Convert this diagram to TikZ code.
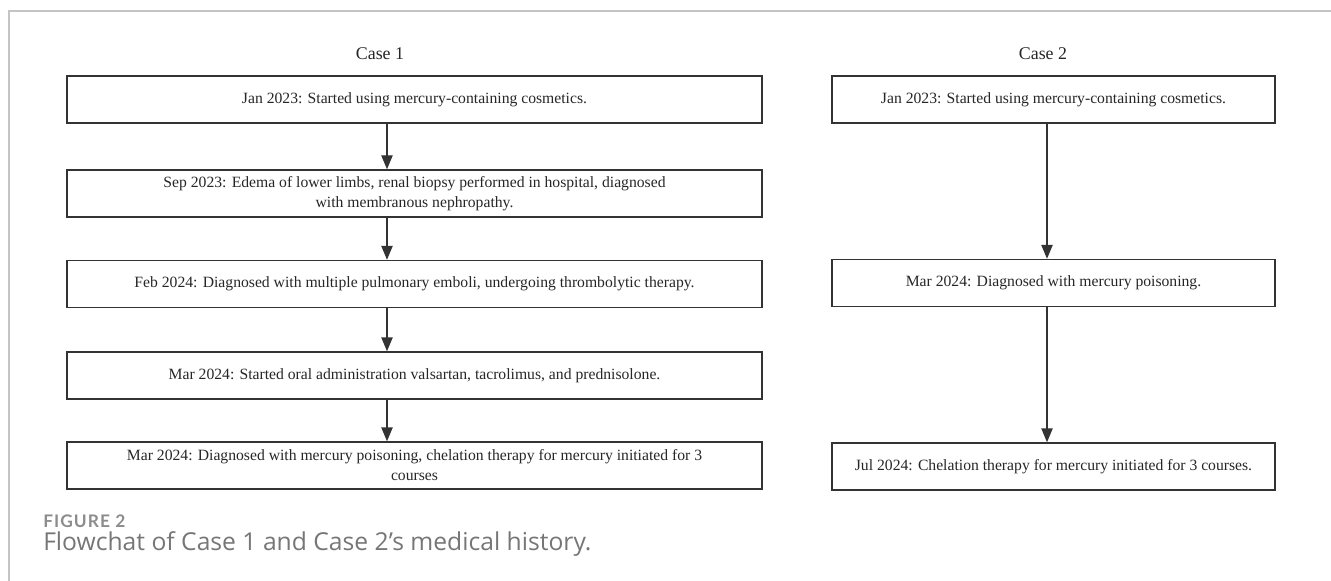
\documentclass[tikz,border=0pt]{standalone}
\usepackage{fontspec}
\setmainfont{Liberation Serif}
\newfontfamily\capfont{Open Sans}
\newfontfamily\tagfont[LetterSpace=6]{Lato}
\usetikzlibrary{arrows.meta}
\definecolor{inkC}{HTML}{262626}
\definecolor{lineC}{HTML}{333333}
\definecolor{frameC}{HTML}{C4C4C4}
\definecolor{capC}{HTML}{767676}
\definecolor{tagC}{HTML}{8C8C8C}

\begin{document}
\begin{tikzpicture}[
  x=0.75pt,
  y=-0.75pt,
  line cap=butt,
  line join=miter,
  event/.style={draw=lineC, line width=1.1pt, text=inkC, align=center,
    minimum height=35.25pt, inner sep=0pt,
    font=\fontsize{11.75}{15}\selectfont},
  eventA/.style={event, minimum width=521.25pt},
  eventB/.style={event, minimum width=332.25pt},
  head/.style={text=inkC, anchor=base, font=\fontsize{13.4}{16}\selectfont},
  flow/.style={lineC, line width=1.1pt, -{Triangle[length=10.5pt, width=8.5pt]}}
]

\useasboundingbox (0,0) rectangle (1331,581);

% Page frame
\draw[frameC, line width=0.8pt] (1331,11) -- (9,11) -- (9,581);

% Case 1
\node[head] (c1head) at (380,60) {Case 1};
\node[eventA] (c1a) at (414.5,99.5) {Jan 2023: Started using mercury-containing cosmetics.};
\node[eventA] (c1b) at (414.5,193.5) {Sep 2023: Edema of lower limbs, renal biopsy performed in hospital, diagnosed\\ with membranous nephropathy.};
\node[eventA] (c1c) at (414.5,284) {Feb 2024: Diagnosed with multiple pulmonary emboli, undergoing thrombolytic therapy.};
\node[eventA] (c1d) at (414.5,375.5) {Mar 2024: Started oral administration valsartan, tacrolimus, and prednisolone.};
\node[eventA] (c1e) at (414.5,465.5) {Mar 2024: Diagnosed with mercury poisoning, chelation therapy for mercury initiated for 3\\ courses};

\coordinate (c1axis) at (387,0);
\foreach \a/\b in {c1a/c1b,c1b/c1c,c1c/c1d,c1d/c1e}{
  \draw[flow] (\a.south -| c1axis) -- (\b.north -| c1axis);
}

% Case 2
\node[head] (c2head) at (1043,60) {Case 2};
\node[eventB] (c2a) at (1053.5,99.5) {Jan 2023: Started using mercury-containing cosmetics.};
\node[eventB] (c2b) at (1053.5,283) {Mar 2024: Diagnosed with mercury poisoning.};
\node[eventB] (c2c) at (1053.5,466.5) {Jul 2024: Chelation therapy for mercury initiated for 3 courses.};

\coordinate (c2axis) at (1047,0);
\foreach \a/\b in {c2a/c2b,c2b/c2c}{
  \draw[flow] (\a.south -| c2axis) -- (\b.north -| c2axis);
}

% Caption
\node[anchor=base west, inner sep=0pt, text=tagC, font=\tagfont\bfseries\fontsize{13}{15}\selectfont] (figtag) at (43,527) {FIGURE 2};
\node[anchor=base west, inner sep=0pt, text=capC, font=\capfont\fontsize{18.5}{21}\selectfont] (figcap) at (43,550) {Flowchat of Case 1 and Case 2’s medical history.};

\end{tikzpicture}
\end{document}
